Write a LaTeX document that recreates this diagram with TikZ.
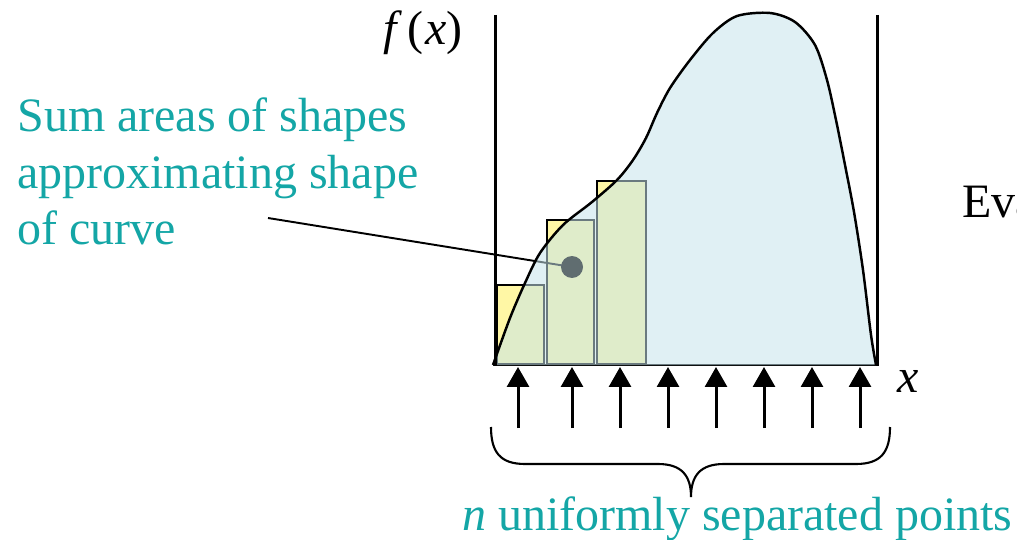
\documentclass[tikz,border=0pt]{standalone}
\usepackage{fontspec}
\setmainfont{Liberation Serif}
\usetikzlibrary{arrows.meta}
\definecolor{labelteal}{RGB}{20,166,166}
\definecolor{areablue}{RGB}{197,227,235}
\definecolor{baryellow}{RGB}{255,247,165}
\definecolor{dotgray}{RGB}{96,109,112}
\newcommand{\bigtext}{\fontsize{27.3}{32.4}\selectfont}

\begin{document}
\begin{tikzpicture}[x=0.02cm, y=-0.02cm,
    every node/.style={font=\bigtext, inner sep=0pt},
    axis/.style={line width=1.7pt},
    bar/.style={fill=baryellow, draw=black, line width=1.4pt},
    sample/.style={line width=1.7pt, -{Triangle[width=0.44cm,length=0.4cm]}},
    areadot/.style={circle, fill=dotgray, minimum size=0.44cm}]
  \useasboundingbox (0,0) rectangle (1017,540);

  % ============ RECTANGLES UNDER THE CURVE ============
  % left / right / top of each bar, all standing on y=364
  \foreach \l/\r/\t in {497/544/285, 547/594/220, 597/646/181}
    \draw[bar] (\l,\t) rectangle (\r,364);
  \draw[axis] (493,365) -- (877,365);

  % leader goes under the shaded area, so it turns grey inside
  \coordinate (leadstart) at (268,218);
  \coordinate (dotc) at (572,267);
  \draw[line width=1.1pt] (leadstart) -- (dotc);

  % ============ CURVE ============
  % fill is see-through: yellow below it reads as green
  \draw[line width=1.4pt, fill=areablue, fill opacity=0.54]
    plot[smooth, tension=0.5] coordinates {
      (493,365) (510,318) (525,283) (540,253) (563,225) (592,202)
      (617,180) (633,160) (646,138) (657,113) (670,88) (690,60)
      (713,33) (737,16) (770,13) (795,22) (815,45) (827,80)
      (836,120) (845,165) (854,212) (863,270) (871,335) (876,365)};
  \node[areadot] (dot) at (dotc) {};

  % ============ AXES ============
  \draw[axis] (495,15) -- (495,366);
  \draw[axis] (877,15) -- (877,366);
  \node[anchor=base west] (fx) at (383,45) {\textit{f}\kern3pt(\kern1pt\textit{x})};
  \node[anchor=base west] (xlab) at (897,392) {\textit{x}};

  % ============ SAMPLE POINTS ============
  \foreach \i/\xx in {1/518,2/572,3/620,4/668,5/716,6/764,7/812,8/860} {
    \coordinate (tail\i) at (\xx,428);
    \coordinate (tip\i) at (\xx,367);
    \draw[sample] (tail\i) -- (tip\i);
  }

  % brace under the arrows
  \draw[line width=1.2pt] (491,427) .. controls (491,452) and (500,464) .. (525,464)
    -- (658,464) .. controls (682,464) and (691,476) .. (691,497)
    .. controls (691,476) and (700,464) .. (724,464)
    -- (856,464) .. controls (881,464) and (890,452) .. (890,427);

  % ============ LABELS ============
  % base anchor sits on the last line here
  \node[anchor=base west, align=left, text=labelteal] (sumlabel) at (17,245)
    {Sum areas of shapes\\approximating shape\\of curve};
  \node[anchor=base west, text=labelteal] (npoints) at (462,530)
    {\textit{n} uniformly separated points};
  \node[anchor=base west] (eva) at (962,218) {Eva};
\end{tikzpicture}
\end{document}
